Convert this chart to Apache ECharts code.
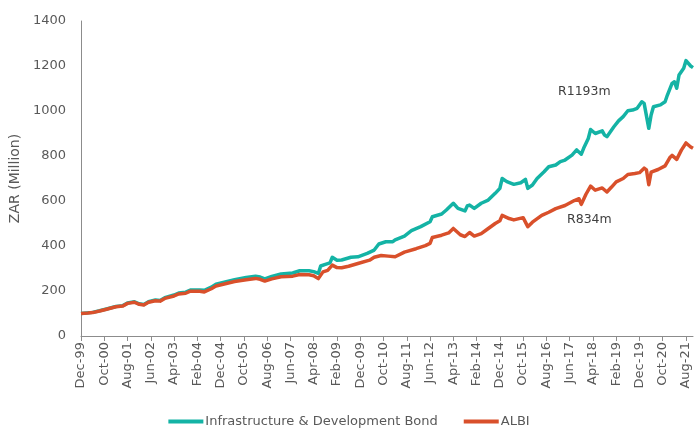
<!DOCTYPE html>
<html>
<head>
<meta charset="utf-8">
<script src="https://cdn.jsdelivr.net/npm/echarts@6/dist/echarts.min.js"></script>
<style>
html,body{margin:0;padding:0;background:#fff;}
#chart{width:698px;height:428px;}
</style>
</head>
<body>
<div id="chart"></div>
<script>
// x positions are month indices counted from Dec-99 (0)
const tickLabels = ['Dec-99','Oct-00','Aug-01','Jun-02','Apr-03','Feb-04','Dec-04','Oct-05','Aug-06','Jun-07','Apr-08','Feb-09','Dec-09','Oct-10','Aug-11','Jun-12','Apr-13','Feb-14','Dec-14','Oct-15','Aug-16','Jun-17','Apr-18','Feb-19','Dec-19','Oct-20','Aug-21'];
const seriesNames = ['Infrastructure & Development Bond','ALBI'];
const endLabels = ['R1193m','R834m'];

const idbData = [[0,100],[5,105],[8,112],[11,120],[15,131],[18,135],[20,147],[23,152],[25,143],[27,140],[29,152],[32,160],[34,158],[36,170],[40,182],[42,191],[45,195],[47,204],[49,205],[51,205],[53,203],[56,217],[58,230],[62,240],[66,250],[71,260],[75,266],[77,262],[79,254],[82,265],[86,276],[91,280],[94,290],[98,290],[100,286],[102,278],[103,311],[105,318],[107,325],[108,350],[110,337],[112,338],[116,350],[119,352],[123,367],[126,382],[128,409],[131,419],[134,419],[135,427],[139,444],[142,468],[146,486],[150,508],[151,530],[155,542],[157,560],[160,590],[162,567],[165,556],[166,578],[167,582],[169,567],[172,590],[175,604],[178,634],[180,656],[181,700],[183,686],[186,674],[189,681],[191,696],[192,656],[194,671],[196,700],[199,730],[201,752],[204,760],[206,775],[208,782],[211,804],[213,827],[215,808],[216,834],[218,878],[219,918],[221,900],[224,912],[225,893],[226,886],[229,930],[231,956],[233,975],[235,1001],[237,1004],[239,1012],[241,1041],[242,1034],[244,923],[245,982],[246,1019],[249,1027],[251,1041],[252,1071],[254,1123],[255,1130],[256,1101],[257,1160],[259,1190],[260,1224],[262,1200],[263,1193]];

const albiData = [[0,100],[3,102],[5,104],[8,111],[11,119],[15,130],[18,133],[20,145],[23,150],[25,141],[27,138],[29,150],[32,157],[34,155],[36,167],[40,178],[42,187],[45,190],[47,199],[49,199],[51,199],[53,196],[56,210],[58,222],[62,232],[66,242],[71,250],[75,256],[77,252],[79,244],[82,254],[86,263],[91,266],[94,273],[98,272],[100,268],[102,255],[104,285],[106,292],[108,315],[110,304],[112,303],[115,310],[119,322],[124,337],[126,350],[129,358],[132,355],[135,352],[139,373],[144,388],[148,402],[150,412],[151,438],[155,448],[158,458],[160,478],[163,450],[165,442],[167,460],[169,444],[172,455],[174,470],[178,500],[180,512],[181,536],[184,522],[186,516],[190,526],[192,486],[194,506],[198,536],[201,550],[204,566],[208,580],[212,602],[214,610],[215,585],[217,630],[219,666],[221,648],[224,658],[226,640],[228,662],[230,685],[233,700],[235,718],[238,722],[240,726],[242,746],[243,738],[244,672],[245,728],[248,740],[251,756],[253,792],[254,803],[256,785],[258,826],[260,858],[262,840],[263,834]];

const FONT = 'DejaVu Sans';
const TXT = '#595959';
const tickValues = tickLabels.map((_, i) => i * 10);

const chart = echarts.init(document.getElementById('chart'), null, {renderer: 'canvas'});
chart.setOption({
  animation: false,
  textStyle: {fontFamily: FONT},
  grid: {left: 80, right: 5, top: 21, bottom: 92, containLabel: false},
  legend: {
    left: 'center', top: 410,
    itemWidth: 35, itemHeight: 4, itemGap: 26,
    icon: 'rect',
    textStyle: {fontFamily: FONT, fontSize: 13, color: TXT, padding: [0,0,0,-3]},
    data: seriesNames
  },
  xAxis: {
    type: 'value', min: 0, max: 263,
    splitLine: {show: false},
    axisLine: {show: true, lineStyle: {color: '#8c8c8c', width: 1}},
    axisTick: {show: true, length: 5, lineStyle: {color: '#8c8c8c'}, customValues: tickValues},
    axisLabel: {
      rotate: 90, margin: 6, fontFamily: FONT, fontSize: 13, color: TXT,
      customValues: tickValues,
      formatter: v => tickLabels[Math.round(v / 10)] || ''
    }
  },
  yAxis: {
    type: 'value', min: 0, max: 1400, interval: 200,
    name: 'ZAR (Million)', nameLocation: 'middle', nameGap: 56,
    nameTextStyle: {fontFamily: FONT, fontSize: 14, color: TXT},
    splitLine: {show: false},
    axisLine: {show: true, lineStyle: {color: '#8c8c8c', width: 1}},
    axisTick: {show: false},
    axisLabel: {margin: 15, fontFamily: FONT, fontSize: 13, color: TXT, formatter: v => String(v)}
  },
  series: [
    {name: seriesNames[0], type: 'line', data: idbData, showSymbol: false, symbol: 'none',
     lineStyle: {width: 3.5, color: '#14B3A5', join: 'round'}, itemStyle: {color: '#14B3A5'}, z: 2},
    {name: seriesNames[1], type: 'line', data: albiData, showSymbol: false, symbol: 'none',
     lineStyle: {width: 3.5, color: '#D9502B', join: 'round'}, itemStyle: {color: '#D9502B'}, z: 3}
  ],
  graphic: [
    {type: 'text', left: 558, top: 85, style: {text: endLabels[0], font: '12.5px "DejaVu Sans"', fill: '#404040'}},
    {type: 'text', left: 567, top: 213, style: {text: endLabels[1], font: '12.5px "DejaVu Sans"', fill: '#404040'}}
  ]
});
</script>
</body>
</html>
